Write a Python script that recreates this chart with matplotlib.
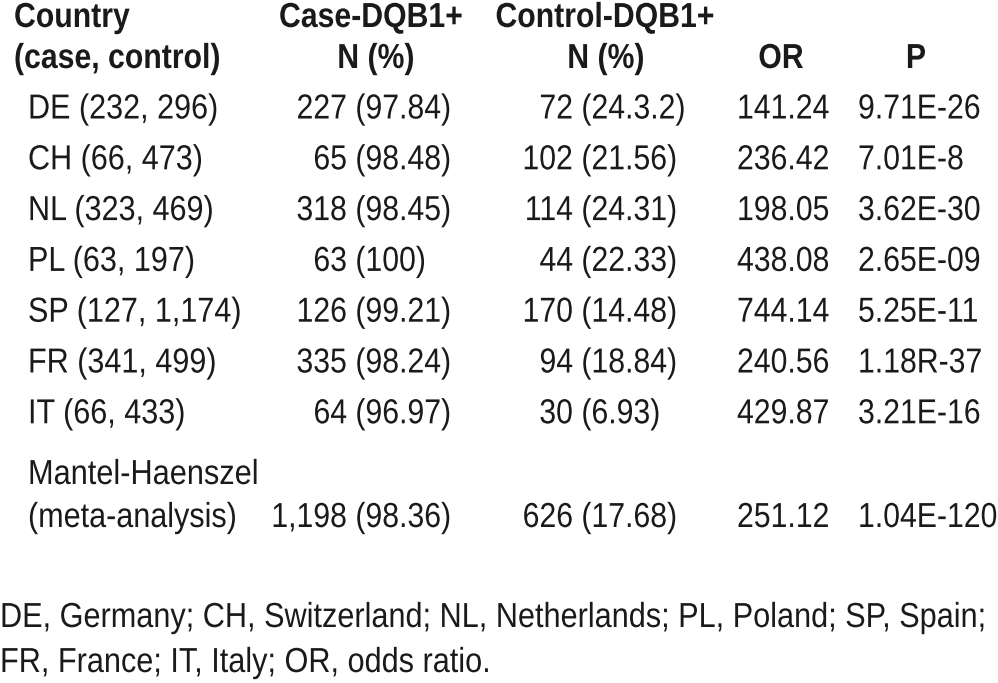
import matplotlib
matplotlib.use("Agg")
import matplotlib.pyplot as plt
from matplotlib.patheffects import AbstractPathEffect
from matplotlib.transforms import Affine2D

plt.rcParams['font.family'] = ['Liberation Sans', 'DejaVu Sans']

# table data
countries = ["DE", "CH", "NL", "PL", "SP", "FR", "IT"]
n_case = [232, 66, 323, 63, 127, 341, 66]
n_control = [296, 473, 469, 197, 1174, 499, 433]
case_pos = [227, 65, 318, 63, 126, 335, 64]
case_pct = ["97.84", "98.48", "98.45", "100", "99.21", "98.24", "96.97"]
ctrl_pos = [72, 102, 114, 44, 170, 94, 30]
ctrl_pct = ["24.3.2", "21.56", "24.31", "22.33", "14.48", "18.84", "6.93"]
odds = ["141.24", "236.42", "198.05", "438.08", "744.14", "240.56", "429.87"]
pvals = ["9.71E-26", "7.01E-8", "3.62E-30", "2.65E-09", "5.25E-11", "1.18R-37", "3.21E-16"]

meta_label = ["Mantel-Haenszel", "(meta-analysis)"]
meta_case, meta_case_pct = 1198, "98.36"
meta_ctrl, meta_ctrl_pct = 626, "17.68"
meta_or, meta_p = "251.12", "1.04E-120"

footnote = ["DE, Germany; CH, Switzerland; NL, Netherlands; PL, Poland; SP, Spain;",
            "FR, France; IT, Italy; OR, odds ratio."]


# no narrow font installed: squeeze glyphs horizontally around the anchor x
class Squeeze(AbstractPathEffect):
    def __init__(self, x0, s=0.87):
        super().__init__()
        self.x0 = x0
        self.s = s

    def draw_path(self, renderer, gc, tpath, affine, rgbFace=None):
        sq = Affine2D().translate(-self.x0, 0).scale(self.s, 1).translate(self.x0, 0)
        renderer.draw_path(gc, tpath, affine + sq, rgbFace)


fig = plt.figure(figsize=(9.98, 6.83), dpi=100)
ax = fig.add_axes([0, 0, 1, 1])
ax.set_xlim(0, 998)
ax.set_ylim(683, 0)
ax.axis('off')

fs = 25
col = '#1a1a1a'


def put(x, y, s, ha='left', bold=False, sq=0.87):
    ax.text(x, y, s, ha=ha, va='baseline', fontsize=fs, color=col,
            fontweight='bold' if bold else 'normal',
            path_effects=[Squeeze(x, sq)])


# header
put(14, 27, "Country", bold=True)
put(14, 68, "(case, control)", bold=True)
put(371, 27, "Case-DQB1+", ha='center', bold=True)
put(376, 68, "N (%)", ha='center', bold=True)
put(605, 27, "Control-DQB1+", ha='center', bold=True)
put(606, 68, "N (%)", ha='center', bold=True)
put(781, 68, "OR", ha='center', bold=True)
put(916, 68, "P", ha='center', bold=True)

x_country = 28
x_case = 347
x_ctrl = 573
x_or = 737
x_p = 858


def row(y, c_n, c_pct, k_n, k_pct, o, p):
    put(x_case, y, f"{c_n:,}", ha='right')
    put(x_case, y, f" ({c_pct})")
    put(x_ctrl, y, f"{k_n:,}", ha='right')
    put(x_ctrl, y, f" ({k_pct})")
    put(x_or, y, o)
    put(x_p, y, p)


y0, dy = 118.5, 50.8
for i, c in enumerate(countries):
    y = y0 + i * dy
    put(x_country, y, f"{c} ({n_case[i]:,}, {n_control[i]:,})", sq=0.88)
    row(y, case_pos[i], case_pct[i], ctrl_pos[i], ctrl_pct[i], odds[i], pvals[i])

put(x_country, 484, meta_label[0], sq=0.885)
put(x_country, 527, meta_label[1], sq=0.88)
row(527, meta_case, meta_case_pct, meta_ctrl, meta_ctrl_pct, meta_or, meta_p)

put(0, 627, footnote[0], sq=0.883)
put(0, 672, footnote[1], sq=0.883)

fig.savefig("out.png", dpi=100)
